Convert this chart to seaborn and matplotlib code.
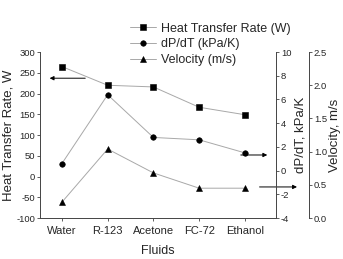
import numpy as np
import pandas as pd
import seaborn as sns
import matplotlib.pyplot as plt

fluids = ["Water", "R-123", "Acetone", "FC-72", "Ethanol"]
heat_rate = [265, 220, 216, 167, 149]
dpdt = [0.6, 6.4, 2.8, 2.6, 1.5]
velocity = [0.24, 1.04, 0.68, 0.45, 0.45]

df = pd.DataFrame({"pos": np.arange(len(fluids)), "Fluid": fluids,
                   "heat": heat_rate, "dpdt": dpdt, "vel": velocity})

sns.set_style("ticks")
plt.rcParams["font.family"] = ["Liberation Sans", "DejaVu Sans"]
plt.rcParams["axes.unicode_minus"] = False

fig = plt.figure(figsize=(3.43, 2.59), dpi=100)
ax = fig.add_axes([0.1166, 0.158, 0.688, 0.641])
ax2 = ax.twinx()
ax3 = ax.twinx()

line_kw = dict(color="#a8a8a8", linewidth=0.7, markeredgecolor="black",
               markerfacecolor="black", markersize=4, markeredgewidth=0.4)
sns.lineplot(data=df, x="pos", y="heat", ax=ax, marker="s", label="Heat Transfer Rate (W)", **line_kw)
sns.lineplot(data=df, x="pos", y="dpdt", ax=ax2, marker="o", label="dP/dT (kPa/K)", **line_kw)
sns.lineplot(data=df, x="pos", y="vel", ax=ax3, marker="^", label="Velocity (m/s)", **line_kw)

for a in (ax, ax2, ax3):
    leg = a.get_legend()
    if leg:
        leg.remove()
    a.set_xlim(-0.48, 4.68)

ax.set_ylim(-100, 300)
ax.set_yticks(range(-100, 301, 50))
ax.set_xticks(range(len(fluids)))
ax.set_xticklabels(fluids)
ax.set_xlabel("Fluids", fontsize=9, labelpad=7)
ax.set_ylabel("Heat Transfer Rate, W", fontsize=9.5, labelpad=1)

ax2.set_ylim(-4, 10)
ax2.set_yticks(range(-4, 11, 2))
ax2.set_ylabel("dP/dT, kPa/K", fontsize=9.5, labelpad=2)

ax3.set_ylim(0, 2.5)
ax3.set_yticks(np.arange(0, 2.51, 0.5))
ax3.set_yticklabels([f"{v:.1f}" for v in np.arange(0, 2.51, 0.5)])
ax3.set_ylabel("Velocity, m/s", fontsize=9.5, labelpad=1)
ax3.spines["right"].set_position(("axes", 1.14))

for a in (ax, ax2, ax3):
    a.tick_params(axis="y", labelsize=6.8, length=2.5, width=0.6, pad=1, color="#444444")
    for s in a.spines.values():
        s.set_linewidth(0.7)
        s.set_color("#444444")
    a.spines["top"].set_visible(False)
ax.tick_params(axis="x", labelsize=8, length=2.5, width=0.6, pad=3, color="#444444")
ax.spines["right"].set_visible(False)
ax2.spines["left"].set_visible(False)
ax3.spines["left"].set_visible(False)
ax3.spines["bottom"].set_visible(False)
ax2.spines["bottom"].set_visible(False)

arrow = dict(arrowstyle="-|>", color="black", lw=0.7, mutation_scale=6)
ax.annotate("", xy=(-0.33, 237), xytext=(0.57, 237), arrowprops=arrow, annotation_clip=False)
ax.annotate("", xy=(4.55, 52), xytext=(3.85, 52), arrowprops=arrow, annotation_clip=False)
ax.annotate("", xy=(5.2, -25), xytext=(4.26, -25), arrowprops=arrow, annotation_clip=False)

handles = [ax.get_lines()[0], ax2.get_lines()[0], ax3.get_lines()[0]]
labels = ["Heat Transfer Rate (W)", "dP/dT (kPa/K)", "Velocity (m/s)"]
fig.legend(handles, labels, loc="upper left", bbox_to_anchor=(0.36, 0.937),
           frameon=False, fontsize=9, handlelength=2.1, handletextpad=0.4,
           labelspacing=0.3, borderpad=0)

fig.savefig("out.png", dpi=100)
